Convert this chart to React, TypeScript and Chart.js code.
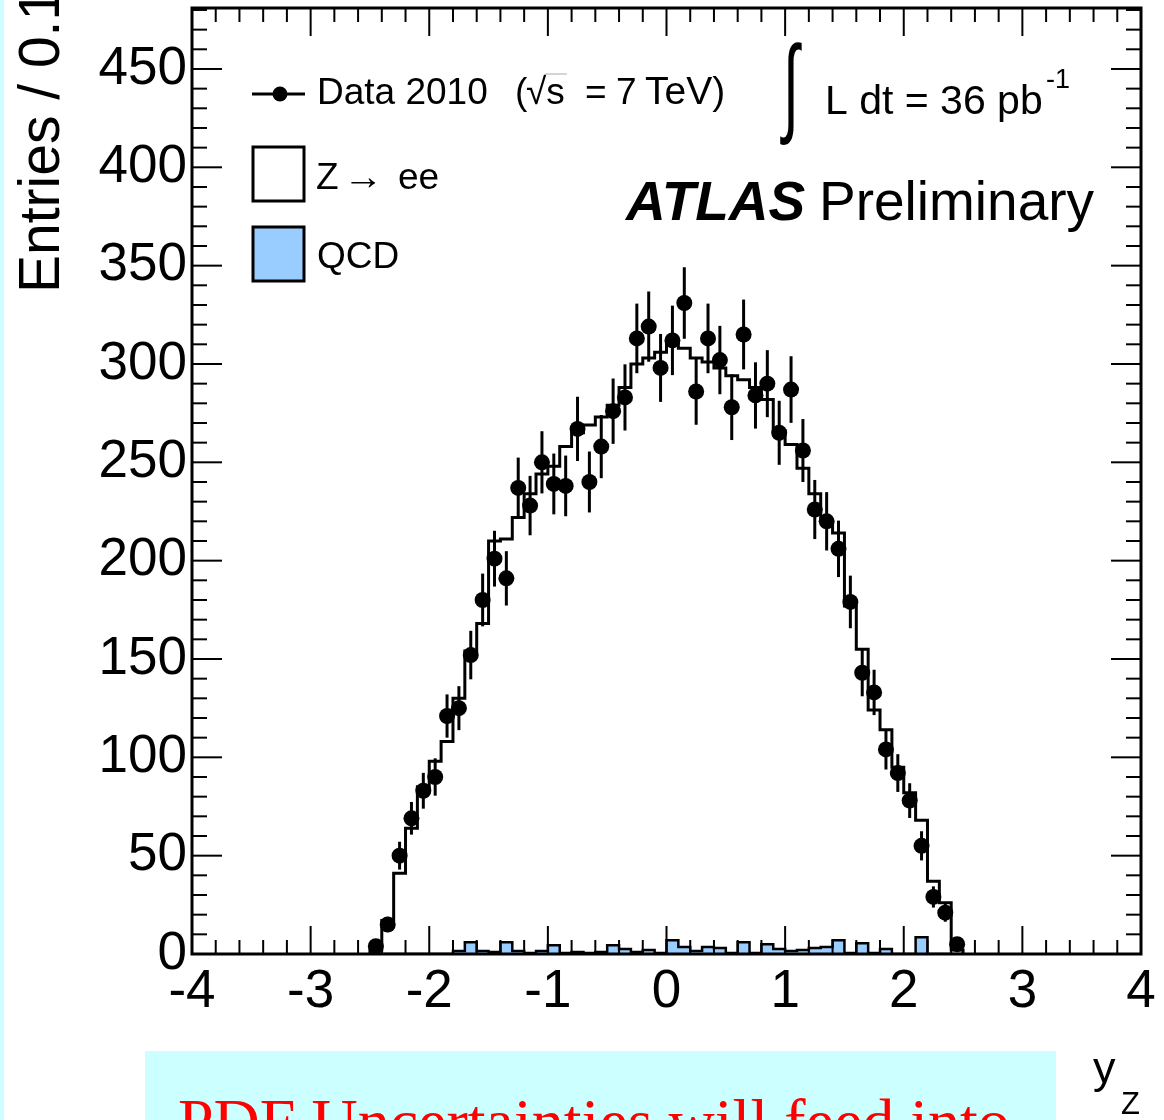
import React, { useEffect, useRef } from "react";
import { Chart, registerables } from "chart.js";

Chart.register(...registerables);

// ---------- data (bins of width 0.1 in y_Z) ----------
const binCenters = [
  -2.45, -2.35, -2.25, -2.15, -2.05, -1.95, -1.85, -1.75, -1.65, -1.55,
  -1.45, -1.35, -1.25, -1.15, -1.05, -0.95, -0.85, -0.75, -0.65, -0.55,
  -0.45, -0.35, -0.25, -0.15, -0.05, 0.05, 0.15, 0.25, 0.35, 0.45,
  0.55, 0.65, 0.75, 0.85, 0.95, 1.05, 1.15, 1.25, 1.35, 1.45,
  1.55, 1.65, 1.75, 1.85, 1.95, 2.05, 2.15, 2.25, 2.35, 2.45,
];

const dataCounts = [
  4, 15, 50, 69, 83, 90, 121, 125, 152, 180,
  201, 191, 237, 228, 250, 239, 238, 267, 240, 258,
  276, 283, 313, 319, 298, 312, 331, 286, 313, 302,
  278, 315, 284, 290, 265, 287, 256, 226, 220, 206,
  179, 143, 133, 104, 92, 78, 55, 29, 21, 5,
];

const zeeCounts = [
  2, 17, 41, 64, 85, 98, 108, 130, 154, 168,
  210, 211, 222, 234, 244, 248, 258, 265, 269, 273,
  279, 288, 300, 303, 306, 312, 308, 303, 301, 298,
  294, 292, 288, 282, 266, 259, 247, 234, 220, 214,
  177, 155, 124, 114, 95, 82, 68, 37, 26, 2,
];

const qcdCounts = [
  0, 0, 0, 0, 0, 0, 0, 1.5, 6, 1.5,
  1, 6, 1.5, 0.5, 1.5, 4.5, 0.5, 1, 0.5, 1,
  4.5, 2.5, 1, 2, 0.5, 7, 3.5, 1.5, 3.5, 3,
  0.5, 6, 0.5, 5, 2.5, 1.5, 2, 3, 3.5, 7,
  0.5, 5.5, 0.5, 2.5, 0, 0, 8.5, 0, 0, 0,
];

const xTicks = [-4, -3, -2, -1, 0, 1, 2, 3, 4];
const yTicks = [0, 50, 100, 150, 200, 250, 300, 350, 400, 450];
const binWidth = 0.1;

const SANS = '"Liberation Sans", Arial, Helvetica, sans-serif';
const SERIF = '"Liberation Serif", "Times New Roman", serif';

function histPoints(values: number[]) {
  const h = binWidth / 2;
  const pts: { x: number; y: number }[] = [];
  pts.push({ x: binCenters[0] - h, y: 0 });
  binCenters.forEach((c, i) => {
    pts.push({ x: c - h, y: values[i] });
    pts.push({ x: c + h, y: values[i] });
  });
  pts.push({ x: binCenters[binCenters.length - 1] + h, y: 0 });
  return pts;
}

const backgroundPlugin = {
  id: "bg",
  beforeDraw(chart: any) {
    const ctx = chart.ctx;
    const W = chart.width;
    const H = chart.height;
    ctx.save();
    ctx.fillStyle = "#ffffff";
    ctx.fillRect(0, 0, W, H);
    ctx.fillStyle = "#ccffff";
    ctx.fillRect(0, 0, 4, H);
    ctx.fillRect(145, 1051, 911, H - 1051);
    ctx.fillStyle = "#ff0000";
    ctx.font = `64px ${SERIF}`;
    ctx.textAlign = "left";
    ctx.textBaseline = "alphabetic";
    ctx.fillText("PDF Uncertainties will feed into", 178, 1143);
    ctx.restore();
  },
};

const errorBarPlugin = {
  id: "errbars",
  afterDatasetsDraw(chart: any) {
    const ctx = chart.ctx;
    const xs = chart.scales.x;
    const ys = chart.scales.y;
    const a = chart.chartArea;
    ctx.save();
    ctx.beginPath();
    ctx.rect(a.left, a.top, a.right - a.left, a.bottom - a.top);
    ctx.clip();
    ctx.strokeStyle = "#000";
    ctx.lineWidth = 3;
    dataCounts.forEach((v, i) => {
      const e = Math.sqrt(v);
      const px = xs.getPixelForValue(binCenters[i]);
      ctx.beginPath();
      ctx.moveTo(px, ys.getPixelForValue(Math.max(0, v - e)));
      ctx.lineTo(px, ys.getPixelForValue(v + e));
      ctx.stroke();
    });
    ctx.restore();
  },
};

const framePlugin = {
  id: "frame",
  afterDraw(chart: any) {
    const ctx = chart.ctx;
    const a = chart.chartArea;
    const xs = chart.scales.x;
    const ys = chart.scales.y;
    ctx.save();
    ctx.strokeStyle = "#000";
    ctx.lineWidth = 2;
    const seg = (x1: number, y1: number, x2: number, y2: number) => {
      ctx.beginPath();
      ctx.moveTo(x1, y1);
      ctx.lineTo(x2, y2);
      ctx.stroke();
    };
    for (let k = 0; k <= 40; k++) {
      const v = xs.min + k * 0.2;
      const major = k % 5 === 0;
      const px = xs.getPixelForValue(v);
      const len = major ? 28 : 14;
      seg(px, a.bottom, px, a.bottom - len);
      seg(px, a.top, px, a.top + len);
    }
    for (let v = 0; v <= ys.max; v += 10) {
      const major = v % 50 === 0;
      const py = ys.getPixelForValue(v);
      const len = major ? 30 : 15;
      seg(a.left, py, a.left + len, py);
      seg(a.right, py, a.right - len, py);
    }
    ctx.lineWidth = 3;
    ctx.strokeRect(a.left, a.top, a.right - a.left, a.bottom - a.top);
    ctx.restore();
  },
};

const textPlugin = {
  id: "texts",
  afterDraw(chart: any) {
    const ctx = chart.ctx;
    ctx.save();
    ctx.fillStyle = "#000";
    ctx.strokeStyle = "#000";
    ctx.textAlign = "left";
    ctx.textBaseline = "alphabetic";

    // y axis title
    ctx.save();
    ctx.translate(59, 293);
    ctx.rotate(-Math.PI / 2);
    ctx.font = `57px ${SANS}`;
    ctx.fillText("Entries / 0.1", 0, 0);
    ctx.restore();

    // x axis title
    ctx.font = `45px ${SANS}`;
    ctx.fillText("y", 1093, 1083);
    ctx.font = `31px ${SANS}`;
    ctx.fillText("Z", 1121, 1114);

    // legend: data marker
    ctx.lineWidth = 3;
    ctx.beginPath();
    ctx.moveTo(252, 94);
    ctx.lineTo(305, 94);
    ctx.stroke();
    ctx.beginPath();
    ctx.arc(280, 94, 7.5, 0, Math.PI * 2);
    ctx.fill();

    ctx.font = `37px ${SANS}`;
    ctx.fillText("Data 2010", 317, 104);
    ctx.fillText("(", 515, 104);
    ctx.fillText("\u221A", 526, 104);
    const rw = ctx.measureText("\u221A").width;
    const sx0 = 526 + rw;
    ctx.fillText("s", sx0, 104);
    const sw = ctx.measureText("s").width;
    ctx.fillText("=", 585, 104);
    ctx.fillText("7", 616, 104);
    ctx.font = `39px ${SANS}`;
    ctx.fillText("TeV)", 645, 104);
    ctx.save();
    ctx.strokeStyle = "#aaa";
    ctx.lineWidth = 1;
    ctx.beginPath();
    ctx.moveTo(sx0 - 1, 74);
    ctx.lineTo(sx0 + sw + 2, 74);
    ctx.stroke();
    ctx.restore();

    // legend boxes
    ctx.lineWidth = 3;
    ctx.fillStyle = "#ffffff";
    ctx.fillRect(253, 147, 51, 54);
    ctx.fillStyle = "#99ccff";
    ctx.fillRect(253, 227, 51, 54);
    ctx.strokeRect(253, 147, 51, 54);
    ctx.strokeRect(253, 227, 51, 54);
    ctx.fillStyle = "#000";
    ctx.font = `37px ${SANS}`;
    ctx.fillText("Z", 316, 189);
    ctx.fillText("ee", 398, 189);
    ctx.save();
    ctx.font = `37px ${SANS}`;
    const am = ctx.measureText("\u2192");
    ctx.translate(343, 189);
    ctx.scale(40 / am.width, 1);
    ctx.fillText("\u2192", 0, 0);
    ctx.restore();
    ctx.font = `37px ${SANS}`;
    ctx.fillText("QCD", 317, 268);

    // luminosity
    ctx.save();
    ctx.font = `100px ${SANS}`;
    const m = ctx.measureText("\u222B");
    const gh = m.actualBoundingBoxAscent + m.actualBoundingBoxDescent;
    const gw = m.actualBoundingBoxLeft + m.actualBoundingBoxRight;
    const sx = 22 / gw;
    const sy = 104 / gh;
    ctx.translate(780, 42);
    ctx.scale(sx, sy);
    ctx.fillText("\u222B", m.actualBoundingBoxLeft, m.actualBoundingBoxAscent);
    ctx.restore();

    ctx.font = `41px ${SANS}`;
    ctx.fillText("L dt = 36 pb", 825, 114);
    ctx.font = `27px ${SANS}`;
    ctx.fillText("-1", 1046, 88);

    // ATLAS Preliminary
    ctx.font = `italic bold 55px ${SANS}`;
    ctx.fillText("ATLAS", 626, 220);
    ctx.font = `55px ${SANS}`;
    ctx.fillText("Preliminary", 819, 220);

    ctx.restore();
  },
};

export default function App() {
  const canvasRef = useRef<HTMLCanvasElement | null>(null);

  useEffect(() => {
    const canvas = canvasRef.current;
    if (!canvas) return;
    const chart = new Chart(canvas, {
      type: "line",
      data: {
        datasets: [
          {
            label: "QCD",
            data: histPoints(qcdCounts),
            borderColor: "#000",
            borderWidth: 2.5,
            backgroundColor: "#99ccff",
            fill: "origin",
            pointRadius: 0,
            tension: 0,
            order: 3,
          },
          {
            label: "Z \u2192 ee",
            data: histPoints(zeeCounts),
            borderColor: "#000",
            borderWidth: 3,
            backgroundColor: "rgba(0,0,0,0)",
            fill: false,
            pointRadius: 0,
            tension: 0,
            order: 2,
          },
          {
            type: "scatter",
            label: "Data 2010",
            data: binCenters.map((c, i) => ({ x: c, y: dataCounts[i] })),
            pointRadius: 8,
            pointBackgroundColor: "#000",
            pointBorderColor: "#000",
            pointBorderWidth: 0,
            showLine: false,
            order: 1,
          } as any,
        ],
      },
      options: {
        responsive: false,
        animation: false,
        devicePixelRatio: 1,
        layout: { padding: { left: 0, right: 23, top: 5, bottom: 96 } },
        plugins: {
          legend: { display: false },
          tooltip: { enabled: false },
        },
        scales: {
          x: {
            type: "linear",
            min: -4,
            max: 4,
            grid: { display: false, drawTicks: false },
            border: { display: false },
            afterBuildTicks: (s: any) => {
              s.ticks = xTicks.map((v) => ({ value: v }));
            },
            afterFit: (s: any) => {
              s.height = 70;
              s.paddingLeft = 0;
              s.paddingRight = 0;
            },
            ticks: {
              font: { family: SANS, size: 53 },
              color: "#000",
              padding: 7,
              autoSkip: false,
              maxRotation: 0,
              minRotation: 0,
              includeBounds: false,
            },
          },
          y: {
            type: "linear",
            min: 0,
            max: 481,
            grid: { display: false, drawTicks: false },
            border: { display: false },
            afterBuildTicks: (s: any) => {
              s.ticks = yTicks.map((v) => ({ value: v }));
            },
            afterFit: (s: any) => {
              s.width = 192;
              s.paddingTop = 0;
              s.paddingBottom = 0;
            },
            ticks: {
              font: { family: SANS, size: 53 },
              color: "#000",
              padding: 5,
              autoSkip: false,
              includeBounds: false,
            },
          },
        },
      } as any,
      plugins: [backgroundPlugin, errorBarPlugin, framePlugin, textPlugin],
    });
    return () => chart.destroy();
  }, []);

  return (
    <div style={{ position: "absolute", left: 0, top: 0, width: 1164, height: 1120 }}>
      <canvas ref={canvasRef} width={1164} height={1120} style={{ display: "block" }} />
    </div>
  );
}
